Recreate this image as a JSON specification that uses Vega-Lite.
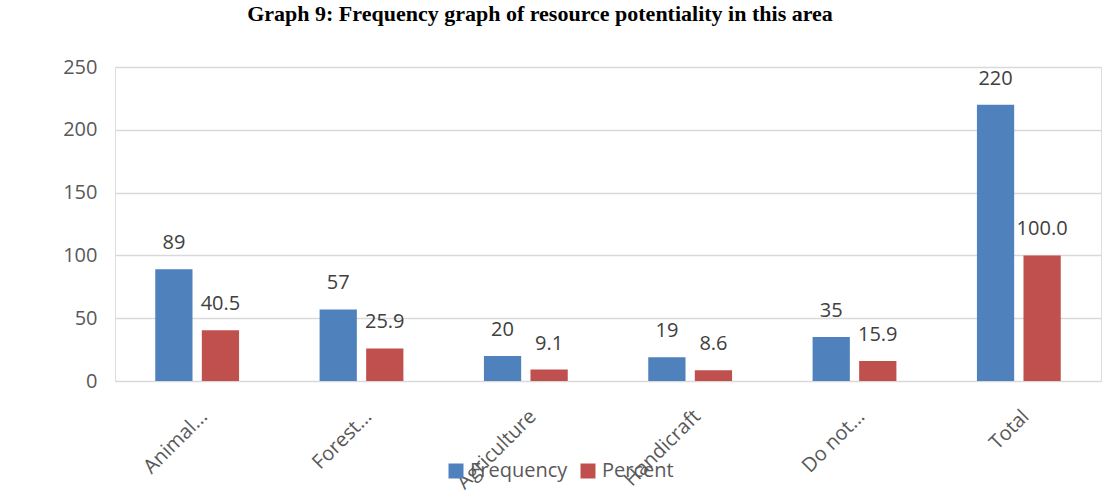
{
  "$schema": "https://vega.github.io/schema/vega-lite/v6.json",
  "autosize": {"type": "none"},
  "width": 986,
  "height": 314,
  "padding": {"left": 115, "top": 67, "right": 6, "bottom": 118},
  "background": "white",
  "title": {
    "text": "Graph 9: Frequency graph of resource potentiality in this area",
    "font": "Liberation Serif",
    "fontSize": 22,
    "fontWeight": "bold",
    "color": "#000000",
    "anchor": "middle",
    "frame": "group",
    "dx": -68,
    "dy": -27
  },
  "data": {
    "values": [
      {"category": "Animal...", "series": "Frequency", "value": 89, "label": "89"},
      {"category": "Animal...", "series": "Percent", "value": 40.5, "label": "40.5"},
      {"category": "Forest...", "series": "Frequency", "value": 57, "label": "57"},
      {"category": "Forest...", "series": "Percent", "value": 25.9, "label": "25.9"},
      {"category": "Agriculture", "series": "Frequency", "value": 20, "label": "20"},
      {"category": "Agriculture", "series": "Percent", "value": 9.1, "label": "9.1"},
      {"category": "Handicraft", "series": "Frequency", "value": 19, "label": "19"},
      {"category": "Handicraft", "series": "Percent", "value": 8.6, "label": "8.6"},
      {"category": "Do not...", "series": "Frequency", "value": 35, "label": "35"},
      {"category": "Do not...", "series": "Percent", "value": 15.9, "label": "15.9"},
      {"category": "Total", "series": "Frequency", "value": 220, "label": "220"},
      {"category": "Total", "series": "Percent", "value": 100.0, "label": "100.0"}
    ]
  },
  "encoding": {
    "x": {
      "field": "category",
      "type": "nominal",
      "sort": null,
      "scale": {"paddingInner": 0.49, "paddingOuter": 0.245},
      "axis": {
        "title": null,
        "labelAngle": -45,
        "labelAlign": "right",
        "labelBaseline": "top",
        "labelPadding": 25,
        "labelFont": "Open Sans",
        "labelFontSize": 20,
        "labelColor": "#595959",
        "domain": false,
        "ticks": false
      }
    },
    "xOffset": {
      "field": "series",
      "type": "nominal",
      "scale": {"paddingInner": 0.2, "paddingOuter": 0}
    },
    "y": {
      "field": "value",
      "type": "quantitative",
      "scale": {"domain": [0, 250], "nice": false},
      "axis": {
        "title": null,
        "values": [0, 50, 100, 150, 200, 250],
        "labelFont": "Open Sans",
        "labelFontSize": 20,
        "labelColor": "#595959",
        "labelPadding": 18,
        "domain": false,
        "ticks": false,
        "grid": true,
        "gridColor": "#d9d9d9",
        "gridWidth": 1.5
      }
    }
  },
  "layer": [
    {
      "mark": {"type": "bar"},
      "encoding": {
        "color": {
          "field": "series",
          "type": "nominal",
          "scale": {"domain": ["Frequency", "Percent"], "range": ["#4f81bd", "#c0504d"]},
          "legend": {
            "title": null,
            "orient": "none",
            "direction": "horizontal",
            "legendX": 331,
            "legendY": 394,
            "symbolType": "square",
            "symbolSize": 225,
            "symbolStrokeWidth": 0,
            "labelFont": "Open Sans",
            "labelFontSize": 20,
            "labelColor": "#595959",
            "labelOffset": 4,
            "columnPadding": 10
          }
        }
      }
    },
    {
      "mark": {"type": "text", "baseline": "alphabetic", "dy": -20, "font": "Open Sans", "fontSize": 20, "color": "#404040"},
      "encoding": {
        "text": {"field": "label", "type": "nominal"}
      }
    }
  ]
}
